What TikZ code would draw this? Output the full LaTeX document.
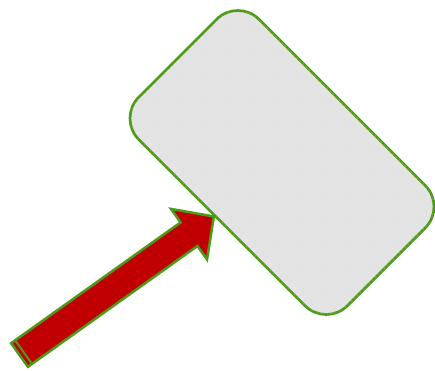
\documentclass[tikz,border=0pt]{standalone}
\usetikzlibrary{calc,patterns}
\definecolor{edgegreen}{RGB}{78,154,24}
\definecolor{arrowred}{RGB}{192,0,0}
\definecolor{boxgray}{RGB}{228,228,228}
\begin{document}
\begin{tikzpicture}[x=1pt,y=-1pt,
  panel/.style={draw=edgegreen, line width=2.7pt, fill=boxgray, rounded corners=30pt,
    rotate=-45, minimum width=295pt, minimum height=170pt, inner sep=0pt,
    postaction={pattern=dots, pattern color=black!12}},
  blockarrow/.style={draw=edgegreen, line width=2.5pt, fill=arrowred, line join=miter},
  tailstripe/.style={draw=edgegreen, line width=2pt}]
\useasboundingbox (0,0) rectangle (435,370);
\node[panel] (box) at (282,162.5) {};
\coordinate (tail) at (19.5,355);
\coordinate (tip) at ($(box.south)!10pt!(box.south west)$);
\coordinate (base) at ($(tip)!30.5pt!(tail)$);
\draw[blockarrow] ($(tail)!14.5pt!90:(tip)$) -- ($(base)!14.5pt!90:(tip)$)
  -- ($(base)!31pt!90:(tip)$) -- (tip) -- ($(base)!31pt!-90:(tip)$)
  -- ($(base)!14.5pt!-90:(tip)$) -- ($(tail)!14.5pt!-90:(tip)$) -- cycle;
\coordinate (tail2) at ($(tail)!5pt!(tip)$);
\draw[tailstripe] ($(tail2)!13.5pt!90:(tip)$) -- ($(tail2)!13.5pt!-90:(tip)$);
\end{tikzpicture}
\end{document}
